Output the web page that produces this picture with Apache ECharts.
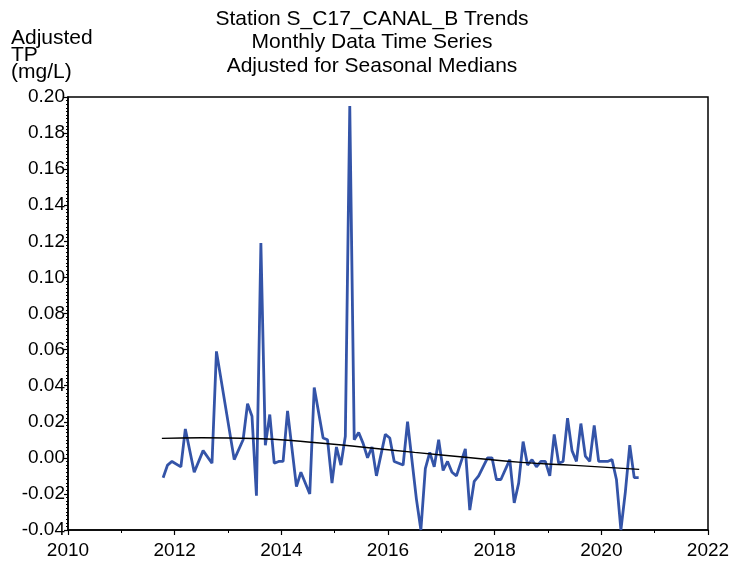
<!DOCTYPE html>
<html>
<head>
<meta charset="utf-8">
<script src="https://cdn.jsdelivr.net/npm/echarts@6/dist/echarts.min.js"></script>
<style>html,body{margin:0;padding:0;background:#fff}#chart{width:744px;height:562px}</style>
</head>
<body>
<div id="chart"></div>
<script>
const titleLines = ['Station S_C17_CANAL_B Trends', 'Monthly Data Time Series', 'Adjusted for Seasonal Medians'];
const yAxisTitle = ['Adjusted', 'TP', '(mg/L)'];

const months = [
 '2011-10','2011-11','2011-12','2012-02','2012-03','2012-05','2012-07','2012-09','2012-10',
 '2013-02','2013-04','2013-05','2013-06','2013-07','2013-08','2013-09','2013-10','2013-11','2013-12',
 '2014-01','2014-02','2014-04','2014-05','2014-07','2014-08','2014-10','2014-11','2014-12',
 '2015-01','2015-02','2015-03','2015-04','2015-05','2015-06','2015-07','2015-08','2015-09','2015-10','2015-12',
 '2016-01','2016-02','2016-03','2016-04','2016-05','2016-07','2016-08','2016-09','2016-10','2016-11','2016-12',
 '2017-01','2017-02','2017-03','2017-04','2017-06','2017-07','2017-08','2017-09','2017-10','2017-11','2017-12',
 '2018-01','2018-02','2018-04','2018-05','2018-06','2018-07','2018-08','2018-09','2018-10','2018-11','2018-12',
 '2019-01','2019-02','2019-03','2019-04','2019-05','2019-06','2019-07','2019-08','2019-09','2019-10','2019-11','2019-12',
 '2020-01','2020-02','2020-03','2020-04','2020-05','2020-06','2020-07','2020-08','2020-09'
];
const adjustedTP = [
 -0.011,-0.004,-0.002,-0.005,0.016,-0.008,0.004,-0.003,0.059,
 -0.001,0.010,0.030,0.023,-0.021,0.119,0.007,0.024,-0.003,-0.002,
 -0.002,0.026,-0.016,-0.008,-0.020,0.039,0.011,0.010,-0.014,
 0.006,-0.004,0.012,0.195,0.010,0.014,0.008,0.000,0.006,-0.010,0.013,
 0.011,-0.002,-0.003,-0.004,0.020,-0.023,-0.040,-0.006,0.003,-0.005,0.010,
 -0.007,-0.002,-0.008,-0.010,0.005,-0.029,-0.013,-0.010,-0.005,0.000,0.000,
 -0.012,-0.012,-0.001,-0.025,-0.014,0.009,-0.004,-0.001,-0.005,-0.002,-0.002,
 -0.010,0.013,-0.003,-0.002,0.022,0.004,-0.002,0.019,0.001,-0.002,0.018,-0.002,
 -0.002,-0.002,-0.001,-0.012,-0.040,-0.019,0.007,-0.011,-0.011
];

const trendYears = [2011.76, 2012.5, 2013.5, 2014.5, 2015.5, 2016.5, 2017.5, 2018.5, 2019.5, 2020.71];
const trendValues = [0.0108, 0.0111, 0.0107, 0.0088, 0.0060, 0.0030, 0.0002, -0.0025, -0.0042, -0.0064];

const xTicks = { min: 2010, max: 2022, interval: 2 };
const yTicks = { min: -0.04, max: 0.20, interval: 0.02 };

function toYear(s) {
  const p = s.split('-');
  return +p[0] + (+p[1] - 0.6) / 12;
}

const FONT = '"Liberation Sans", Arial, sans-serif';
const chart = echarts.init(document.getElementById('chart'), null, { renderer: 'canvas' });
chart.setOption({
  animation: false,
  backgroundColor: '#fff',
  title: [
    {
      text: titleLines.join('\n'),
      left: 'center',
      top: 2,
      textStyle: { fontFamily: FONT, fontSize: 21, fontWeight: 'normal', color: '#000', lineHeight: 23.5 }
    },
    {
      text: yAxisTitle.join('\n'),
      left: 6,
      top: 25,
      textStyle: { fontFamily: FONT, fontSize: 21, fontWeight: 'normal', color: '#000', lineHeight: 17 }
    }
  ],
  grid: { left: 68, right: 36, top: 97, bottom: 32, show: true, borderColor: '#000', borderWidth: 1.5, backgroundColor: 'transparent' },
  xAxis: {
    type: 'value',
    min: xTicks.min, max: xTicks.max, interval: xTicks.interval,
    axisLine: { onZero: false, lineStyle: { color: '#000', width: 1.5 } },
    axisTick: { length: 5, lineStyle: { color: '#000', width: 1.2 } },
    minorTick: { show: true, splitNumber: 2, length: 3, lineStyle: { color: '#000', width: 1 } },
    splitLine: { show: false },
    axisLabel: { fontFamily: FONT, fontSize: 19, color: '#000', margin: 11, formatter: v => String(Math.round(v)) }
  },
  yAxis: {
    type: 'value',
    min: yTicks.min, max: yTicks.max, interval: yTicks.interval,
    axisLine: { onZero: false, lineStyle: { color: '#000', width: 1.5 } },
    axisTick: { length: 4, lineStyle: { color: '#000', width: 1.2 } },
    minorTick: { show: true, splitNumber: 10, length: 2, lineStyle: { color: '#000', width: 1 } },
    splitLine: { show: false },
    axisLabel: { fontFamily: FONT, fontSize: 19, color: '#000', margin: 3, formatter: v => v.toFixed(2) }
  },
  series: [
    {
      type: 'line',
      data: months.map((m, i) => [toYear(m), adjustedTP[i]]),
      showSymbol: false,
      lineStyle: { color: '#3454a8', width: 2.8 },
      z: 2
    },
    {
      type: 'line',
      data: trendYears.map((t, i) => [t, trendValues[i]]),
      showSymbol: false,
      smooth: true,
      lineStyle: { color: '#000', width: 1.4 },
      z: 3
    }
  ]
});
</script>
</body>
</html>
